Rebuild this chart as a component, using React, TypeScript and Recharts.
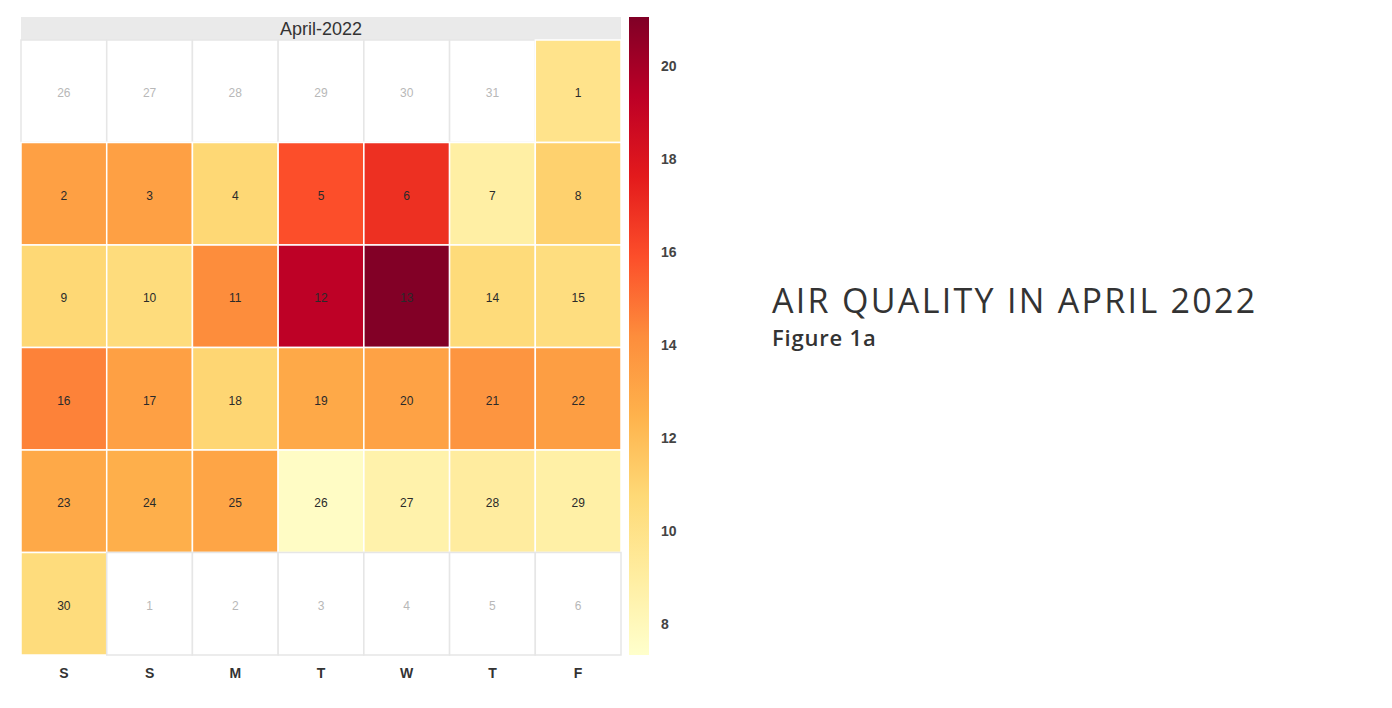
import React from "react";
import {
  ScatterChart,
  Scatter,
  XAxis,
  YAxis,
  BarChart,
  Bar,
} from "recharts";

// ─── Data ─────────────────────────────────────────────────────────────────────
const WEEKDAYS = ["S", "S", "M", "T", "W", "T", "F"];

// day number shown in each cell, row by row (6 weeks x 7 days)
const DAY_NUMBERS = [
  26, 27, 28, 29, 30, 31, 1,
  2, 3, 4, 5, 6, 7, 8,
  9, 10, 11, 12, 13, 14, 15,
  16, 17, 18, 19, 20, 21, 22,
  23, 24, 25, 26, 27, 28, 29,
  30, 1, 2, 3, 4, 5, 6,
];

// air quality value per April day (1..30)
const APRIL_VALUES = [
  9.9, 13.3, 13.3, 10.8, 15.9, 16.9, 8.9, 11.1, 10.8, 10.5,
  14.2, 19.3, 21.0, 10.6, 10.4, 14.5, 13.3, 10.9, 12.9, 13.2,
  13.8, 13.4, 12.9, 12.6, 13.1, 7.6, 8.6, 9.1, 8.8, 10.5,
];

const SCALE_MIN = 7.33;
const SCALE_MAX = 21.05;
const SCALE_TICKS = [8, 10, 12, 14, 16, 18, 20];
const YLORRD = [
  "#ffffcc", "#ffeda0", "#fed976", "#feb24c", "#fd8d3c",
  "#fc4e2a", "#e31a1c", "#bd0026", "#800026",
];

// ─── Helpers ──────────────────────────────────────────────────────────────────
const hexToRgb = (h: string) => [
  parseInt(h.slice(1, 3), 16),
  parseInt(h.slice(3, 5), 16),
  parseInt(h.slice(5, 7), 16),
];

const colorFor = (v: number) => {
  const t = Math.min(1, Math.max(0, (v - SCALE_MIN) / (SCALE_MAX - SCALE_MIN)));
  const pos = t * (YLORRD.length - 1);
  const i = Math.min(YLORRD.length - 2, Math.floor(pos));
  const f = pos - i;
  const a = hexToRgb(YLORRD[i]);
  const b = hexToRgb(YLORRD[i + 1]);
  const c = a.map((x, k) => Math.round(x + (b[k] - x) * f));
  return `rgb(${c[0]},${c[1]},${c[2]})`;
};

const cells = DAY_NUMBERS.map((day, i) => {
  const row = Math.floor(i / 7);
  const inMonth = !((row === 0 && day > 7) || (row === 5 && day < 7));
  return {
    x: (i % 7) + 0.5,
    y: row + 0.5,
    day,
    inMonth,
    value: inMonth ? APRIL_VALUES[day - 1] : null,
  };
});

const scaleData = [{ name: "scale", range: [SCALE_MIN, SCALE_MAX] }];

// plot area of the calendar
const PLOT_W = 600;
const PLOT_H = 615;
const CELL_W = PLOT_W / 7;
const CELL_H = PLOT_H / 6;

const font = '"Liberation Sans Narrow", "Liberation Sans", Arial, sans-serif';

// ─── Cell shape ───────────────────────────────────────────────────────────────
const DayCell = (props: any) => {
  const { cx, cy, payload } = props;
  const fill = payload.inMonth ? colorFor(payload.value) : "#ffffff";
  return (
    <g>
      <rect
        x={cx - CELL_W / 2}
        y={cy - CELL_H / 2}
        width={CELL_W}
        height={CELL_H}
        fill={fill}
        stroke={payload.inMonth ? "#ffffff" : "#e6e6e6"}
        strokeWidth={1.5}
      />
      <text
        x={cx}
        y={cy + 6}
        textAnchor="middle"
        fontSize={12}
        fontFamily={font}
        fill={payload.inMonth ? "#2a2a2a" : "#b8b8b8"}
      >
        {payload.day}
      </text>
    </g>
  );
};

// ─── App ──────────────────────────────────────────────────────────────────────
const App: React.FC = () => {
  return (
    <div
      style={{
        position: "absolute",
        left: 0,
        top: 0,
        width: 1392,
        height: 708,
        background: "#ffffff",
        overflow: "hidden",
      }}
    >
      {/* Month header */}
      <div
        style={{
          position: "absolute",
          left: 21,
          top: 17,
          width: 600,
          height: 23,
          background: "#eaeaea",
          textAlign: "center",
          fontFamily: font,
          fontSize: 18,
          lineHeight: "25px",
          color: "#333",
        }}
      >
        April-2022
      </div>

      {/* Calendar */}
      <div style={{ position: "absolute", left: 0, top: 0 }}>
        <ScatterChart
          width={640}
          height={700}
          margin={{ top: 40, left: 21, right: 19, bottom: 15 }}
        >
          <XAxis
            type="number"
            dataKey="x"
            domain={[0, 7]}
            ticks={[0.5, 1.5, 2.5, 3.5, 4.5, 5.5, 6.5]}
            tickFormatter={(v) => WEEKDAYS[Math.floor(v)]}
            axisLine={false}
            tickLine={false}
            tickMargin={7}
            height={30}
            tick={{ fontSize: 14, fill: "#333", fontFamily: font, fontWeight: 700 }}
          />
          <YAxis type="number" dataKey="y" domain={[0, 6]} reversed hide />
          <Scatter
            data={cells}
            shape={<DayCell />}
            isAnimationActive={false}
          />
        </ScatterChart>
      </div>

      {/* Colour scale */}
      <div style={{ position: "absolute", left: 620, top: 0 }}>
        <BarChart
          width={75}
          height={700}
          data={scaleData}
          barCategoryGap={0}
          margin={{ top: 17, left: 9, right: 6, bottom: 45 }}
        >
          <defs>
            <linearGradient id="ylorrd" x1="0" y1="0" x2="0" y2="1">
              {YLORRD.slice()
                .reverse()
                .map((c, i) => (
                  <stop key={c} offset={`${(i / (YLORRD.length - 1)) * 100}%`} stopColor={c} />
                ))}
            </linearGradient>
          </defs>
          <XAxis dataKey="name" hide />
          <YAxis
            orientation="right"
            type="number"
            domain={[SCALE_MIN, SCALE_MAX]}
            ticks={SCALE_TICKS}
            axisLine={false}
            tickLine={false}
            tickMargin={6}
            width={40}
            tick={{ fontSize: 14, fill: "#444", fontFamily: font, fontWeight: 700, textAnchor: "start" }}
          />
          <Bar dataKey="range" fill="url(#ylorrd)" isAnimationActive={false} />
        </BarChart>
      </div>

      {/* Title */}
      <div
        style={{
          position: "absolute",
          left: 772,
          top: 280,
          fontFamily: '"Open Sans", sans-serif',
          color: "#333",
        }}
      >
        <div style={{ fontSize: 34, lineHeight: "40px", fontWeight: 400, letterSpacing: 2.3, whiteSpace: "nowrap" }}>
          AIR QUALITY IN APRIL 2022
        </div>
        <div style={{ fontSize: 22, lineHeight: "26px", fontWeight: 600, letterSpacing: 0.8, marginTop: 4 }}>
          Figure 1a
        </div>
      </div>
    </div>
  );
};

export default App;
